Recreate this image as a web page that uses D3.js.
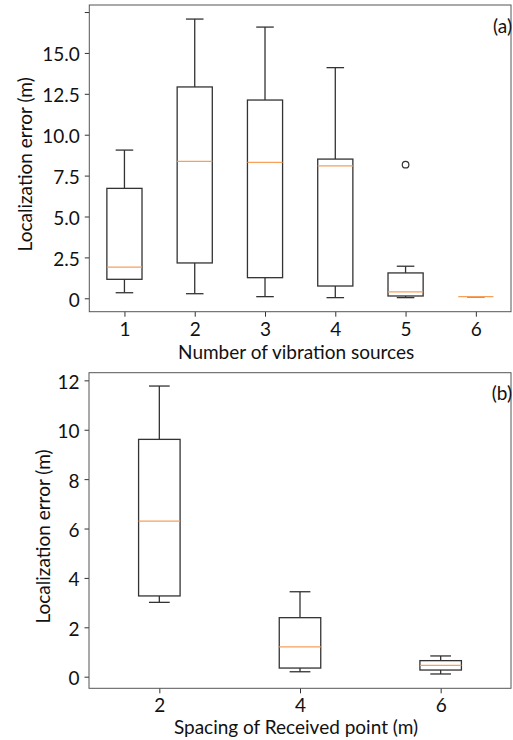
<!DOCTYPE html>
<html>
<head>
<meta charset="utf-8">
<script src="https://cdn.jsdelivr.net/npm/d3@7"></script>
<style>
  body { margin: 0; background: #fff; }
  svg text { font-family: Lato, "Open Sans", sans-serif; fill: #111; }
</style>
</head>
<body>
<svg id="chart" width="513" height="740"></svg>
<script>
// panel (a): number of vibration sources
const sourceCats = [1, 2, 3, 4, 5, 6];
const sourceStats = [
  { lo: 0.34, q1: 1.16, med: 1.91, q3: 6.72, hi: 9.06, out: [] },
  { lo: 0.28, q1: 2.16, med: 8.37, q3: 12.92, hi: 17.07, out: [] },
  { lo: 0.10, q1: 1.26, med: 8.31, q3: 12.12, hi: 16.58, out: [] },
  { lo: 0.04, q1: 0.75, med: 8.10, q3: 8.51, hi: 14.10, out: [] },
  { lo: 0.04, q1: 0.14, med: 0.39, q3: 1.55, hi: 1.96, out: [8.17] },
  { lo: 0.10, q1: 0.10, med: 0.10, q3: 0.10, hi: 0.10, out: [] },
];
const sourceTicks = [0, 2.5, 5, 7.5, 10, 12.5, 15, 17.5];
const sourceTickLabels = ["0", "2.5", "5.0", "7.5", "10.0", "12.5", "15.0", ""];

// panel (b): spacing of received points
const spacingCats = ["2", "4", "6"];
const spacingStats = [
  { lo: 3.01, q1: 3.27, med: 6.30, q3: 9.61, hi: 11.77, out: [] },
  { lo: 0.20, q1: 0.35, med: 1.21, q3: 2.39, hi: 3.44, out: [] },
  { lo: 0.11, q1: 0.27, med: 0.46, q3: 0.65, hi: 0.84, out: [] },
];
const spacingTicks = [0, 2, 4, 6, 8, 10, 12];

const svg = d3.select("#chart");
const lineColor = "#333";
const medianColor = "#f7a05a";
const fs = 19;

function drawPanel({ top, bottom, left, right, cats, stats, yDomain, ticks, tickLabels,
                     boxW, xTitle, yTitleX, tag, tickLabelY, titleY }) {
  const g = svg.append("g");
  const x = d3.scalePoint().domain(cats).range([left, right]).padding(0.5);
  const y = d3.scaleLinear().domain(yDomain).range([bottom, top]);
  const bw = (x.step()) * boxW;

  // y axis
  const yAxis = d3.axisLeft(y).tickValues(ticks).tickSize(4.5).tickPadding(5)
    .tickFormat((d, i) => tickLabels ? tickLabels[i] : d3.format("d")(d));
  const ya = g.append("g").attr("transform", `translate(${left},0)`).call(yAxis);
  ya.select(".domain").remove();
  ya.selectAll(".tick line").attr("stroke", lineColor);
  ya.selectAll(".tick text").attr("font-size", fs).attr("dy", "0.42em");

  // x axis
  const xAxis = d3.axisBottom(x).tickSize(5).tickPadding(0);
  const xa = g.append("g").attr("transform", `translate(0,${bottom})`).call(xAxis);
  xa.select(".domain").remove();
  xa.selectAll(".tick line").attr("stroke", lineColor);
  xa.selectAll(".tick text").attr("font-size", fs).attr("y", tickLabelY - bottom).attr("dy", "0.35em");

  // frame
  g.append("rect").attr("x", left).attr("y", top)
    .attr("width", right - left).attr("height", bottom - top)
    .attr("fill", "none").attr("stroke", "#555").attr("stroke-width", 1);

  // boxes
  stats.forEach((s, i) => {
    const cx = x(cats[i]);
    const bg = g.append("g").attr("stroke", lineColor).attr("stroke-width", 1.3).attr("fill", "none");
    bg.append("line").attr("x1", cx).attr("x2", cx).attr("y1", y(s.q3)).attr("y2", y(s.hi));
    bg.append("line").attr("x1", cx).attr("x2", cx).attr("y1", y(s.q1)).attr("y2", y(s.lo));
    bg.append("line").attr("x1", cx - bw / 4).attr("x2", cx + bw / 4).attr("y1", y(s.hi)).attr("y2", y(s.hi));
    bg.append("line").attr("x1", cx - bw / 4).attr("x2", cx + bw / 4).attr("y1", y(s.lo)).attr("y2", y(s.lo));
    bg.append("rect").attr("x", cx - bw / 2).attr("width", bw)
      .attr("y", y(s.q3)).attr("height", Math.max(0, y(s.q1) - y(s.q3)));
    g.append("line").attr("x1", cx - bw / 2).attr("x2", cx + bw / 2)
      .attr("y1", y(s.med)).attr("y2", y(s.med))
      .attr("stroke", medianColor).attr("stroke-width", 1.3);
    s.out.forEach(v => {
      g.append("circle").attr("cx", cx).attr("cy", y(v)).attr("r", 3.3)
        .attr("fill", "none").attr("stroke", lineColor).attr("stroke-width", 1.2);
    });
  });

  g.append("text").attr("x", (left + right) / 2 - 4).attr("y", titleY).attr("dy", "0.35em")
    .attr("text-anchor", "middle").attr("font-size", fs).text(xTitle);
  g.append("text")
    .attr("transform", `translate(${yTitleX},${(top + bottom) / 2 + 6}) rotate(-90)`)
    .attr("text-anchor", "middle").attr("dy", "0.35em").attr("font-size", fs)
    .text("Localization error (m)");
  g.append("text").attr("x", right + 1).attr("y", top + 21).attr("dy", "0.35em")
    .attr("text-anchor", "end").attr("font-size", fs).text(tag);
}

drawPanel({
  top: 5, bottom: 311.7, left: 89.3, right: 511,
  cats: sourceCats, stats: sourceStats, yDomain: [-0.82, 17.93],
  ticks: sourceTicks, tickLabels: sourceTickLabels, boxW: 0.5,
  xTitle: "Number of vibration sources", yTitleX: 25, tag: "(a)",
  tickLabelY: 329.5, titleY: 352.5,
});

drawPanel({
  top: 372.7, bottom: 688.3, left: 89, right: 511,
  cats: spacingCats, stats: spacingStats, yDomain: [-0.47, 12.31],
  ticks: spacingTicks, tickLabels: null, boxW: 0.295,
  xTitle: "Spacing of Received point (m)", yTitleX: 43.5, tag: "(b)",
  tickLabelY: 705, titleY: 727.5,
});
</script>
</body>
</html>
